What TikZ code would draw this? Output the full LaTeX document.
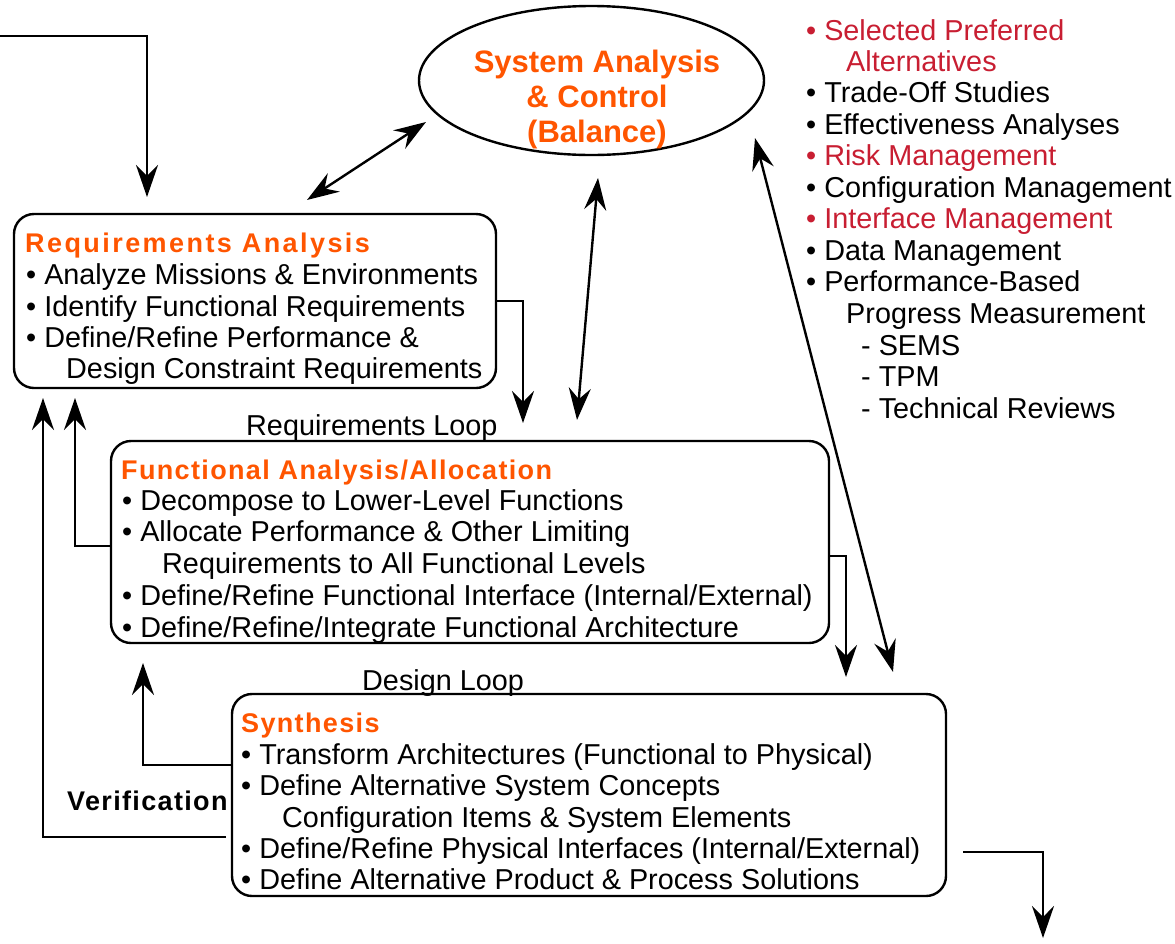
\documentclass[tikz,border=0pt]{standalone}
\usepackage{fontspec}
\setmainfont{Liberation Sans}
\usetikzlibrary{arrows.meta,shapes.geometric}
\definecolor{titleorange}{RGB}{255,85,0}
\definecolor{listred}{RGB}{200,30,50}
\begin{document}
\begin{tikzpicture}[x=1pt,y=-1pt,
  box/.style={draw, line width=2.4pt, rounded corners=20pt, inner sep=0pt},
  body/.style={anchor=base west, inner sep=0pt, font=\fontsize{28.8}{32}\selectfont},
  redbody/.style={body, text=listred},
  ttl/.style={anchor=base west, inner sep=0pt, text=titleorange, font=\fontsize{27}{32}\selectfont\bfseries\addfontfeature{LetterSpace=5}},
  wide/.style={font=\fontsize{27}{32}\selectfont\bfseries\addfontfeature{LetterSpace=9}},
  elltxt/.style={anchor=base, inner sep=0pt, text=titleorange, font=\fontsize{31}{35}\selectfont\bfseries},
  tip/.tip={Stealth[length=32pt,width=22pt,inset=11pt]},
  conn/.style={line width=2.4pt, -tip},
  dconn/.style={line width=2.4pt, tip-tip},
]
\useasboundingbox (0,0) rectangle (1175,943);

% ---- main shapes
\node[draw, ellipse, line width=2.4pt, minimum width=345pt, minimum height=149pt, inner sep=0pt] (ell) at (591.5,80.5) {};
\node[box, minimum width=482pt, minimum height=174pt] (req) at (255,301) {};
\node[box, minimum width=718pt, minimum height=202pt] (func) at (470,542) {};
\node[box, minimum width=714pt, minimum height=202pt] (syn) at (589,795) {};

% ---- ellipse text
\node[elltxt] (e1) at (597,72) {System Analysis};
\node[elltxt] (e2) at (597,107) {\& Control};
\node[elltxt] (e3) at (597,142) {(Balance)};

% ---- requirements analysis
\node[ttl, wide] (rt) at (25,252) {Requirements Analysis};
\node[body] (r1) at (26,284) {• Analyze Missions \& Environments};
\node[body] (r2) at (26,316) {• Identify Functional Requirements};
\node[body] (r3) at (26,347) {• Define/Refine Performance \&};
\node[body] (r4) at (66,378) {Design Constraint Requirements};

% ---- functional analysis
\node[ttl] (ft) at (121,479) {Functional Analysis/Allocation};
\node[body] (f1) at (122,510) {• Decompose to Lower-Level Functions};
\node[body] (f2) at (122,541) {• Allocate Performance \& Other Limiting};
\node[body] (f3) at (162,573) {Requirements to All Functional Levels};
\node[body] (f4) at (122,605) {• Define/Refine Functional Interface (Internal/External)};
\node[body] (f5) at (122,637) {• Define/Refine/Integrate Functional Architecture};

% ---- synthesis
\node[ttl] (st) at (241,732) {Synthesis};
\node[body] (s1) at (241,764) {• Transform Architectures (Functional to Physical)};
\node[body] (s2) at (241,795) {• Define Alternative System Concepts};
\node[body] (s3) at (282,827) {Configuration Items \& System Elements};
\node[body] (s4) at (241,858) {• Define/Refine Physical Interfaces (Internal/External)};
\node[body] (s5) at (241,889) {• Define Alternative Product \& Process Solutions};

% ---- right list
\node[redbody] (l1) at (806,40) {• Selected Preferred};
\node[redbody] (l2) at (846,71) {Alternatives};
\node[body] (l3) at (806,102) {• Trade-Off Studies};
\node[body] (l4) at (806,134) {• Effectiveness Analyses};
\node[redbody] (l5) at (806,165) {• Risk Management};
\node[body] (l6) at (806,197) {• Configuration Management};
\node[redbody] (l7) at (806,228) {• Interface Management};
\node[body] (l8) at (806,260) {• Data Management};
\node[body] (l9) at (806,291) {• Performance-Based};
\node[body] (l10) at (846,323) {Progress Measurement};
\node[body] (l11) at (861,355) {- SEMS};
\node[body] (l12) at (861,386) {- TPM};
\node[body] (l13) at (861,418) {- Technical Reviews};

% ---- loop labels
\node[body] (rl) at (246,435) {Requirements Loop};
\node[body] (dl) at (362,690) {Design Loop};
\node[ttl, text=black] (ver) at (67,810) {Verification};

% ---- connector end points
\coordinate (inA) at (0,36);
\coordinate (inB) at (147,197);
\coordinate (erA) at (426,122);
\coordinate (erB) at (307,200);
\coordinate (efA) at (598,178);
\coordinate (efB) at (577,420);
\coordinate (esA) at (755,138);
\coordinate (esB) at (893,672);
\coordinate (rfB) at (523,423);
\coordinate (frA) at (111,546);
\coordinate (frB) at (75,398);
\coordinate (fsA) at (829,556);
\coordinate (fsB) at (846,677);
\coordinate (sfA) at (232,765);
\coordinate (sfB) at (143,663);
\coordinate (vA) at (226,837);
\coordinate (vB) at (43,398);
\coordinate (outA) at (963,852);
\coordinate (outB) at (1043,938);

% ---- connectors
\draw[conn] (inA) -| (inB);
\draw[dconn] (erA) -- (erB);
\draw[dconn] (efA) -- (efB);
\draw[dconn] (esA) -- (esB);
\draw[conn] (req.east) -| (rfB);
\draw[conn] (frA) -| (frB);
\draw[conn] (fsA) -| (fsB);
\draw[conn] (sfA) -| (sfB);
\draw[conn] (vA) -| (vB);
\draw[conn] (outA) -| (outB);
\end{tikzpicture}
\end{document}
